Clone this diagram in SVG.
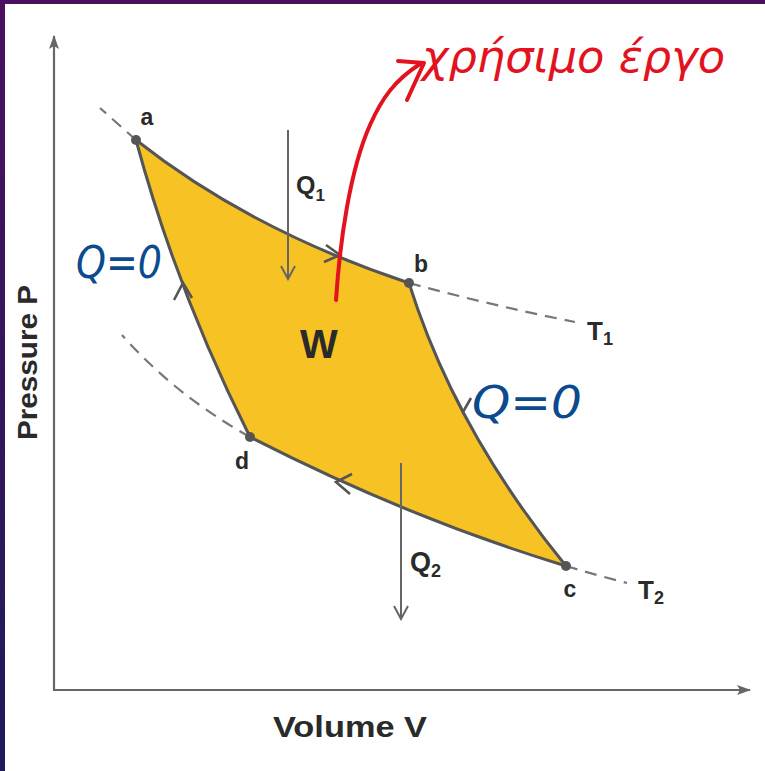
<svg xmlns="http://www.w3.org/2000/svg" width="765" height="771" viewBox="0 0 765 771">
  <defs>
    <linearGradient id="frame" x1="0" y1="0" x2="0" y2="1">
      <stop offset="0" stop-color="#4a1060"/>
      <stop offset="1" stop-color="#1f1b5c"/>
    </linearGradient>
    <marker id="axisHead" markerWidth="14" markerHeight="10" refX="13" refY="5" orient="auto" markerUnits="userSpaceOnUse">
      <path d="M0,0 L14,5 L0,10 L3,5 Z" fill="#666"/>
    </marker>
    <marker id="qHead" markerWidth="16" markerHeight="16" refX="14" refY="8" orient="auto" markerUnits="userSpaceOnUse">
      <path d="M1,1 L14,8 L1,15" fill="none" stroke="#666" stroke-width="2"/>
    </marker>
  </defs>
  <style>
    .axis { stroke: #666; stroke-width: 2.2; fill: none; }
    .iso { stroke: #777; stroke-width: 2.2; fill: none; stroke-dasharray: 12 8; }
    .chev { stroke: #555; stroke-width: 2.6; fill: none; stroke-linejoin: miter; }
    .dot { fill: #555; }
    .lbl { font-family: "Liberation Sans", Arial, sans-serif; font-weight: bold; fill: #2a2a2a; }
    .hand { font-family: "DejaVu Sans", "Noto Sans", sans-serif; font-style: italic; }
    .red { fill: #e3121f; }
    .blue { fill: #0b4a8c; }
  </style>
  <rect x="0" y="0" width="765" height="771" fill="#ffffff"/>
  <rect x="0" y="0" width="5" height="771" fill="url(#frame)"/>
  <rect x="0" y="0" width="765" height="4" fill="#4a1060"/>

  <g id="axes">
    <line class="axis" x1="54" y1="690" x2="54" y2="36" marker-end="url(#axisHead)"/>
    <line class="axis" x1="53" y1="690" x2="750" y2="690" marker-end="url(#axisHead)"/>
    <text class="lbl" x="273" y="737" font-size="30" textLength="154" lengthAdjust="spacingAndGlyphs">Volume V</text>
    <text class="lbl" x="0" y="0" font-size="28" textLength="155" lengthAdjust="spacingAndGlyphs" transform="translate(37,440) rotate(-90)">Pressure P</text>
  </g>

  <g id="cycle">
    <path d="M136,140 Q250,230 409,283 Q455,430 566,566 Q408,518 250,437 Q177,292 136,140 Z" fill="#f7c223" stroke="#555" stroke-width="3" stroke-linejoin="round"/>
  </g>

  <g id="connectors">
    <path class="iso" d="M136,140 Q118,124 100,108"/>
    <path class="iso" d="M409,283 Q490,305 575,322"/>
    <path class="iso" d="M566,566 Q596,575 627,583"/>
    <path class="iso" d="M250,437 Q175,395 122,335"/>
    <path class="chev" d="M326,245 L340,255 L324,262"/>
    <path class="chev" d="M455,396 L463,412 L471,398"/>
    <path class="chev" d="M352,474 L336,482 L350,494"/>
    <path class="chev" d="M174,300 L183,283 L192,298"/>
    <line x1="288" y1="130" x2="288" y2="279" stroke="#666" stroke-width="2" marker-end="url(#qHead)"/>
    <line x1="401" y1="463" x2="401" y2="619" stroke="#666" stroke-width="2" marker-end="url(#qHead)"/>
  </g>

  <g id="node-a">
    <circle class="dot" cx="136" cy="140" r="5"/>
    <text class="lbl" x="147" y="125" font-size="23" text-anchor="middle">a</text>
  </g>
  <g id="node-b">
    <circle class="dot" cx="409" cy="283" r="5"/>
    <text class="lbl" x="421" y="272" font-size="23" text-anchor="middle">b</text>
  </g>
  <g id="node-c">
    <circle class="dot" cx="566" cy="566" r="5"/>
    <text class="lbl" x="570" y="597" font-size="23" text-anchor="middle">c</text>
  </g>
  <g id="node-d">
    <circle class="dot" cx="250" cy="437" r="5"/>
    <text class="lbl" x="242" y="469" font-size="23" text-anchor="middle">d</text>
  </g>

  <g id="labels">
    <text class="lbl" x="296" y="194" font-size="25">Q<tspan font-size="17" dy="7">1</tspan></text>
    <text class="lbl" x="410" y="571" font-size="27">Q<tspan font-size="18" dy="6">2</tspan></text>
    <text class="lbl" x="587" y="340" font-size="26">T<tspan font-size="18" dy="5">1</tspan></text>
    <text class="lbl" x="638" y="599" font-size="26">T<tspan font-size="18" dy="5">2</tspan></text>
    <text class="lbl" x="319" y="358" font-size="40" text-anchor="middle">W</text>
  </g>

  <g id="annotations">
    <path d="M336,300 C340,240 350,170 370,125 C382,98 395,80 420,64" fill="none" stroke="#e3121f" stroke-width="4" stroke-linecap="round"/>
    <path d="M398,61 L424,63 L407,100" fill="none" stroke="#e3121f" stroke-width="4" stroke-linecap="round" stroke-linejoin="round"/>
    <text class="hand red" x="422" y="72" font-size="44" textLength="303" lengthAdjust="spacingAndGlyphs">χρήσιμο έργο</text>
    <text class="hand blue" x="76" y="278" font-size="44" textLength="86" lengthAdjust="spacingAndGlyphs">Q=0</text>
    <text class="hand blue" x="472" y="418" font-size="44" textLength="110" lengthAdjust="spacingAndGlyphs">Q=0</text>
  </g>
</svg>
